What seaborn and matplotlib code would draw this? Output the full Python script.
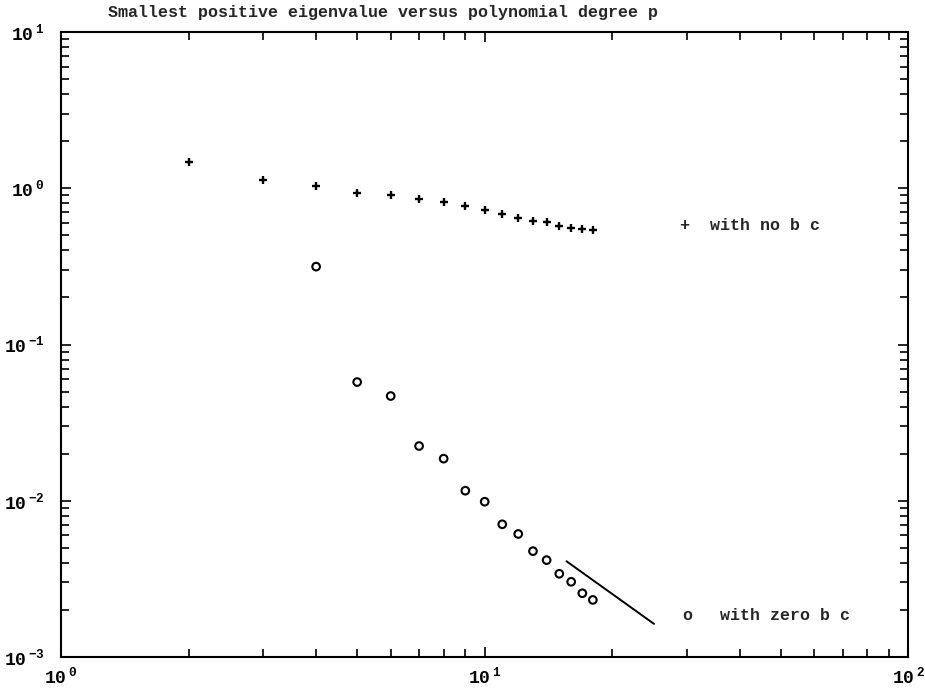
import numpy as np
import pandas as pd
import seaborn as sns
import matplotlib
matplotlib.use("Agg")
import matplotlib.pyplot as plt
from matplotlib.ticker import LogLocator, FuncFormatter, NullFormatter

# data
p_no_bc = [2, 3, 4, 5, 6, 7, 8, 9, 10, 11, 12, 13, 14, 15, 16, 17, 18]
eig_no_bc = [1.47, 1.13, 1.04, 0.93, 0.905, 0.857, 0.813, 0.766, 0.726, 0.687,
             0.645, 0.614, 0.605, 0.573, 0.559, 0.548, 0.538]

p_zero_bc = [4, 5, 6, 7, 8, 9, 10, 11, 12, 13, 14, 15, 16, 17, 18]
eig_zero_bc = [0.315, 0.0575, 0.0468, 0.0224, 0.0186, 0.0116, 0.00986, 0.00707,
               0.00613, 0.00476, 0.00417, 0.00341, 0.00303, 0.00256, 0.00232]

# slope -2 reference line
ref_x = [15.6, 25.1]
ref_y = [0.0041, 0.00163]

title = "Smallest positive eigenvalue versus polynomial degree p"
label_no_bc = "with no b c"
label_zero_bc = "with zero b c"

df_no = pd.DataFrame({"p": p_no_bc, "eig": eig_no_bc})
df_zero = pd.DataFrame({"p": p_zero_bc, "eig": eig_zero_bc})
df_ref = pd.DataFrame({"p": ref_x, "eig": ref_y})

sns.set_style("ticks")
mono = "Liberation Mono"
plt.rcParams["font.family"] = [mono, "DejaVu Sans Mono"]
plt.rcParams["font.weight"] = "bold"
plt.rcParams["mathtext.fontset"] = "custom"
plt.rcParams["mathtext.rm"] = mono + ":bold"
plt.rcParams["mathtext.it"] = mono + ":bold"
plt.rcParams["mathtext.bf"] = mono + ":bold"

fig = plt.figure(figsize=(9.25, 6.89), dpi=100)
ax = fig.add_axes([0.066, 0.0464, 0.916, 0.9072])

sns.scatterplot(data=df_no, x="p", y="eig", marker="+", s=40, color="black",
                linewidth=1.7, ax=ax, legend=False)
sns.scatterplot(data=df_zero, x="p", y="eig", marker="o", s=30, facecolor="none",
                edgecolor="black", linewidth=1.5, ax=ax, legend=False)
sns.lineplot(data=df_ref, x="p", y="eig", color="black", linewidth=1.4, ax=ax)

ax.set_xscale("log")
ax.set_yscale("log")
ax.set_xlim(1, 100)
ax.set_ylim(1e-3, 10)
ax.set_xlabel("")
ax.set_ylabel("")


def pow_label(v, pos):
    e = int(round(np.log10(v)))
    return r"$10^{\ \mathbf{%d}}$" % e


ax.xaxis.set_major_locator(LogLocator(base=10, numticks=10))
ax.yaxis.set_major_locator(LogLocator(base=10, numticks=10))
ax.xaxis.set_minor_locator(LogLocator(base=10, subs=np.arange(2, 10), numticks=20))
ax.yaxis.set_minor_locator(LogLocator(base=10, subs=np.arange(2, 10), numticks=20))
ax.xaxis.set_major_formatter(FuncFormatter(pow_label))
ax.yaxis.set_major_formatter(FuncFormatter(pow_label))
ax.xaxis.set_minor_formatter(NullFormatter())
ax.yaxis.set_minor_formatter(NullFormatter())

ax.tick_params(which="both", direction="in", top=True, right=True,
               labelsize=13, width=1.2, colors="black")
ax.tick_params(which="major", length=7)
ax.tick_params(axis="y", which="major", pad=12)
ax.tick_params(axis="x", which="major", pad=7)
ax.tick_params(which="minor", length=6)
for s in ax.spines.values():
    s.set_linewidth(1.5)
    s.set_color("black")

# legend written on the axes, as in the original
ax.text(0.7355, 0.69, "+", transform=ax.transAxes, ha="center", va="center",
        fontsize=12)
ax.text(0.766, 0.69, label_no_bc, transform=ax.transAxes, ha="left", va="center",
        fontsize=12)
ax.text(0.739, 0.066, "o", transform=ax.transAxes, ha="center", va="center",
        fontsize=12)
ax.text(0.778, 0.066, label_zero_bc, transform=ax.transAxes, ha="left", va="center",
        fontsize=12)

fig.text(0.117, 0.993, title, ha="left", va="top", fontsize=12)

fig.savefig("out.png", dpi=100)
